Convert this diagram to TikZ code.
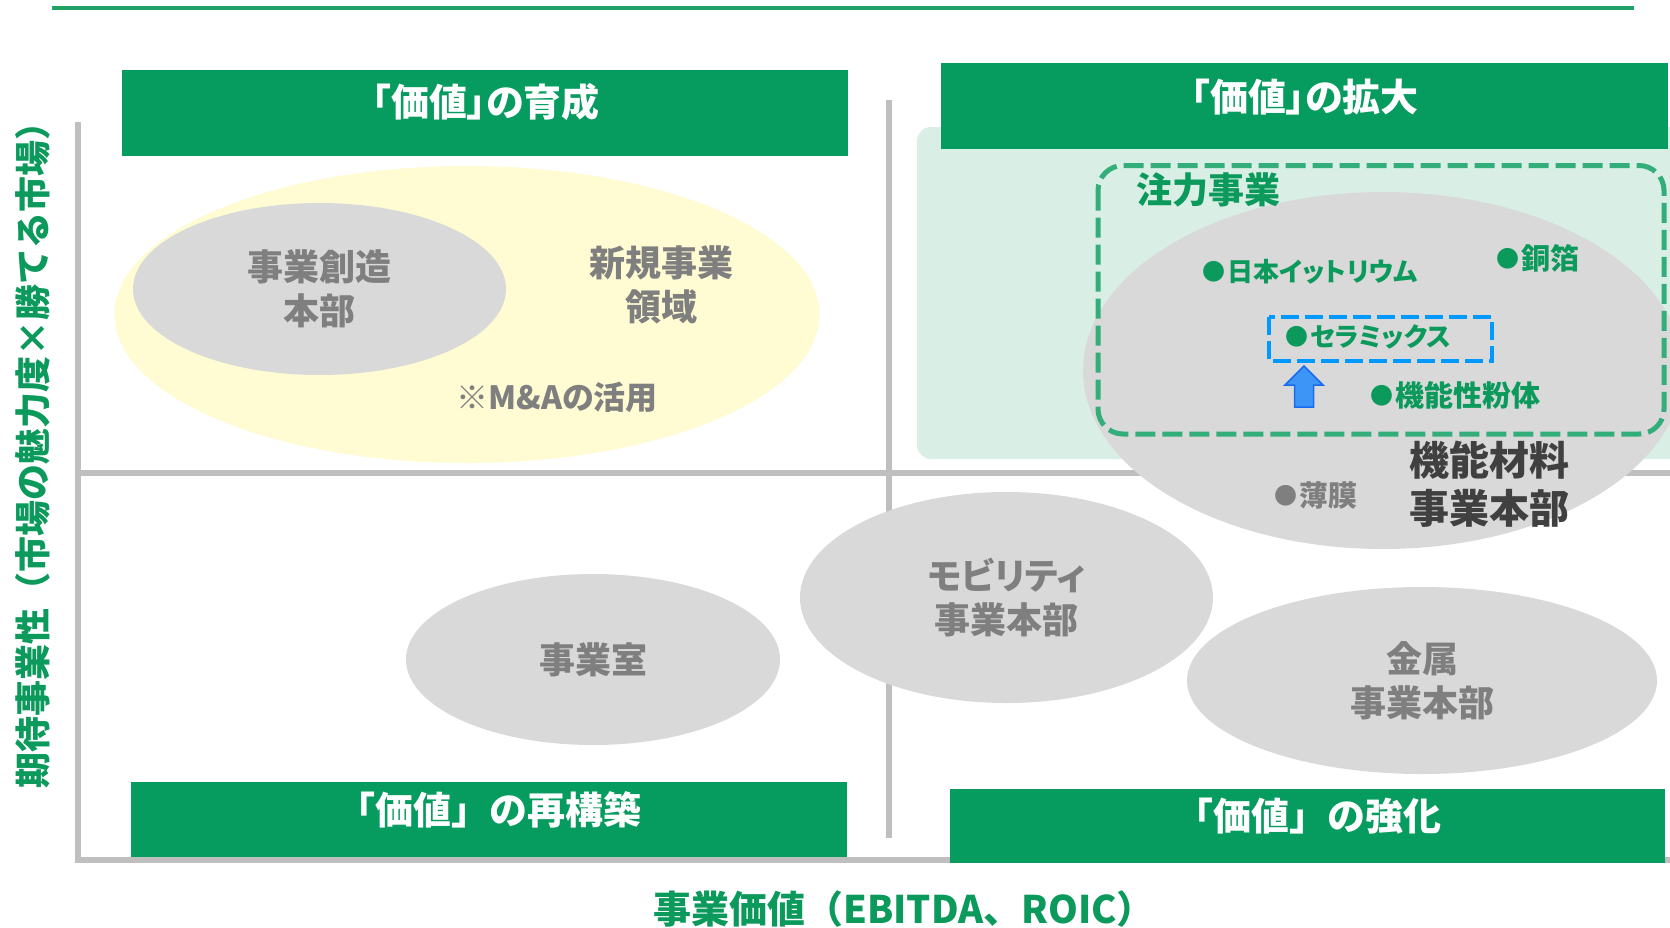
\documentclass[tikz,border=0pt]{standalone}
\usepackage{fontspec}
\setmainfont{Noto Sans CJK JP}
\newfontfamily\jpp{Noto Sans CJK JP}[RawFeature=+palt]
\usetikzlibrary{shapes.geometric}
\definecolor{hdrgreen}{HTML}{069B5F}
\definecolor{topline}{HTML}{1FA266}
\definecolor{txtgreen}{HTML}{0B9A5C}
\definecolor{dashgreen}{HTML}{33AE7B}
\definecolor{mint}{HTML}{D9EFE6}
\definecolor{ellgray}{HTML}{D9D9D9}
\definecolor{txtgray}{HTML}{7F7F7F}
\definecolor{txtdark}{HTML}{404040}
\definecolor{axisgray}{HTML}{BFBFBF}
\definecolor{paleyellow}{HTML}{FFFBD2}
\definecolor{dashblue}{HTML}{0099FF}
\definecolor{arrowblue}{HTML}{3D95F5}
\definecolor{arrowedge}{HTML}{1A6BEF}
\newcommand{\bulmark}{\raisebox{1.5pt}{\fontsize{23}{23}\selectfont ●}\hspace{2pt}}
\begin{document}
\begin{tikzpicture}[x=1pt,y=-1pt,
  hdrbox/.style={fill=hdrgreen,draw=none},
  hdrtxt/.style={text=white,inner sep=0,font=\bfseries\fontsize{38}{40}\selectfont},
  hdrtxtp/.style={text=white,inner sep=0,font=\jpp\bfseries\fontsize{38}{40}\selectfont},
  axisline/.style={draw=axisgray,line width=6pt},
  blob/.style={ellipse,fill=ellgray,draw=none,inner sep=0,align=center,text=txtgray,font=\jpp\bfseries\fontsize{36}{44}\selectfont},
  graytxt/.style={text=txtgray,inner sep=0,align=center,font=\jpp\bfseries\fontsize{36}{44}\selectfont},
  item/.style={text=txtgreen,inner sep=0,font=\jpp\bfseries\fontsize{29}{32}\selectfont},
  kanaitem/.style={item,font=\jpp\bfseries\fontsize{26}{30}\selectfont},
  axislabel/.style={text=txtgreen,inner sep=0,font=\bfseries\fontsize{36}{38}\selectfont},
]
\useasboundingbox (0,0) rectangle (1670,927);
\clip (0,0) rectangle (1670,927);
\fill[white] (0,0) rectangle (1670,927);

% top rule
\draw[topline,line width=4pt] (52,8) -- (1634,8);

% mint background of upper-right quadrant
\fill[mint,rounded corners=14pt] (917,127) rectangle (1700,459);

% axes and quadrant lines
\draw[axisline] (77.5,122) -- (77.5,863);
\draw[axisline] (74.5,860) -- (1670,860);
\draw[axisline] (77.5,473) -- (1670,473);
\draw[axisline] (889,100) -- (889,838);

% yellow region
\node[ellipse,fill=paleyellow,draw=none,minimum width=705pt,minimum height=297pt,inner sep=0] (newbiz) at (467,314.5) {};
\node[blob,minimum width=373pt,minimum height=172pt] (sozo) at (319.5,289) {事業創造\\本部};
\node[graytxt] (shinki) at (661,285) {新規事業\\領域};
\node[graytxt,font=\jpp\bfseries\fontsize{32}{34}\selectfont] (ma) at (557,397) {※M\&Aの活用};

% lower ellipses
\node[blob,minimum width=374pt,minimum height=171pt] (jigyo) at (593,659.5) {事業室};
\node[blob,minimum width=413pt,minimum height=211pt] (mob) at (1006.5,597.5) {モビリティ\\事業本部};
\node[blob,minimum width=470pt,minimum height=187pt] (kinzoku) at (1422,680.5) {金属\\事業本部};

% functional materials
\node[blob,minimum width=600pt,minimum height=357pt] (kino) at (1383,370.5) {};
\node[graytxt,text=txtdark,font=\jpp\bfseries\fontsize{40}{48}\selectfont] (kinolbl) at (1489,484) {機能材料\\事業本部};
\node[item,text=txtgray] (hakumaku) at (1316,495) {\bulmark 薄膜};

% focus business frame
\draw[dashgreen,line width=5pt,dash pattern=on 20pt off 7pt,rounded corners=25pt] (1098,165.5) rectangle (1664,434);
\node[text=txtgreen,inner sep=0,font=\jpp\bfseries\fontsize{36}{40}\selectfont] (churyoku) at (1208,190) {注力事業};
\node[kanaitem] (yttrium) at (1310,272) {\bulmark 日本イットリウム};
\node[item] (doshaku) at (1538,258) {\bulmark 銅箔};
\node[kanaitem] (ceramics) at (1368,337) {\bulmark セラミックス};
\node[item] (funtai) at (1455,395) {\bulmark 機能性粉体};
\draw[dashblue,line width=4.5pt,dash pattern=on 18pt off 6pt] (1269,317) rectangle (1492,361);
\fill[arrowblue,draw=arrowedge,line width=1.5pt] (1304,366) -- (1323,385) -- (1313.5,385) -- (1313.5,407) -- (1294.5,407) -- (1294.5,385) -- (1285,385) -- cycle;

% header boxes
\fill[hdrbox] (122,70) rectangle (848,156);
\node[hdrtxtp] (h1) at (486,102) {「価値」の育成};
\fill[hdrbox] (941,63) rectangle (1668,149);
\node[hdrtxtp] (h2) at (1305,97) {「価値」の拡大};
\fill[hdrbox] (131,782) rectangle (847,857);
\node[hdrtxt] (h3) at (489,810) {「価値」の再構築};
\fill[hdrbox] (950,789) rectangle (1665,863);
\node[hdrtxt] (h4) at (1308,816) {「価値」の強化};

% axis labels
\node[axislabel,rotate=90] (ylab) at (33,446) {期待事業性（市場の魅力度×勝てる市場）};
\node[axislabel,font=\bfseries\fontsize{38}{40}\selectfont] (xlab) at (904,909) {事業価値（EBITDA、ROIC）};
\end{tikzpicture}
\end{document}
